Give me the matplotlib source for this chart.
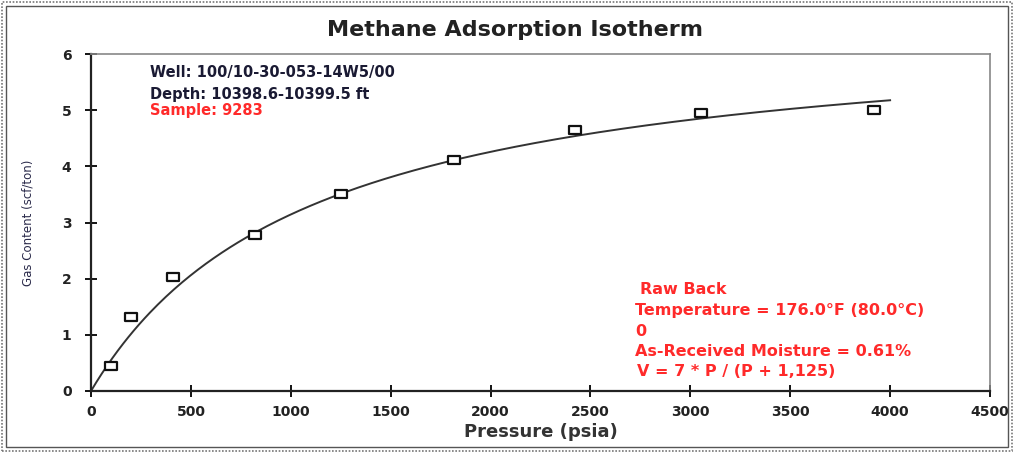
import numpy as np
import matplotlib
matplotlib.use("Agg")
import matplotlib.pyplot as plt
from matplotlib.patches import Rectangle
from matplotlib.path import Path

# Data
pressure = [100, 200, 410, 820, 1250, 1817, 2422, 3053, 3919]
gas_content = [0.44, 1.32, 2.03, 2.78, 3.51, 4.11, 4.64, 4.95, 5.00]
# Fitted Langmuir curve parameters (as drawn)
langmuir_volume = 6.6
langmuir_pressure = 1100
curve_max_pressure = 4000
x_ticks = [0, 500, 1000, 1500, 2000, 2500, 3000, 3500, 4000, 4500]
y_ticks = [0, 1, 2, 3, 4, 5, 6]

info_lines = ["Well: 100/10-30-053-14W5/00", "Depth: 10398.6-10399.5 ft"]
sample_line = "Sample: 9283"
cond_lines = ["Raw Back", "Temperature = 176.0°F (80.0°C)", "0",
              "As-Received Moisture = 0.61%", "V = 7 * P / (P + 1,125)"]

fig = plt.figure(figsize=(10.14, 4.53), dpi=100)
ax = fig.add_axes([91/1014, 62/453, 899/1014, 337/453])

pc = np.linspace(0, curve_max_pressure, 300)
vc = langmuir_volume * pc / (pc + langmuir_pressure)
ax.plot(pc, vc, color="#333333", lw=1.4, zorder=2)

rect_marker = Path([(-1.6, -1), (1.6, -1), (1.6, 1), (-1.6, 1), (-1.6, -1)],
                   [Path.MOVETO, Path.LINETO, Path.LINETO, Path.LINETO, Path.CLOSEPOLY])
ax.plot(pressure, gas_content, ls="none", marker=rect_marker, ms=9, mfc="white",
        mec="#111111", mew=1.6, zorder=3)

ax.set_xlim(0, 4500)
ax.set_ylim(0, 6)
ax.set_xticks(x_ticks)
ax.set_yticks(y_ticks)
ax.tick_params(direction="inout", length=8, width=1.3, labelsize=10, pad=6)
ax.tick_params(axis="y", pad=10)
for lab in ax.get_xticklabels() + ax.get_yticklabels():
    lab.set_fontweight("bold")
    lab.set_color("#222222")
for s in ["left", "bottom"]:
    ax.spines[s].set_linewidth(1.6)
    ax.spines[s].set_color("#222222")
for s in ["top", "right"]:
    ax.spines[s].set_linewidth(1.2)
    ax.spines[s].set_color("#888888")

ax.set_xlabel("Pressure (psia)", fontsize=13, fontweight="bold", color="#333333", labelpad=3)
ax.set_ylabel("Gas Content (scf/ton)", fontsize=8.5, color="#2a2a4a", labelpad=20)

fig.text(515/1014, 1 - 30/453, "Methane Adsorption Isotherm", ha="center", va="center",
         fontsize=16, fontweight="bold", color="#222222")

fig.text(150/1014, 1 - 73/453, info_lines[0], fontsize=10.5, fontweight="bold",
         color="#1a1a33", va="center")
fig.text(150/1014, 1 - 95/453, info_lines[1], fontsize=10.5, fontweight="bold",
         color="#1a1a33", va="center")
fig.text(150/1014, 1 - 110/453, sample_line, fontsize=10.5, fontweight="bold",
         color="#ff2a2a", va="center")

ys = [290, 311, 331, 352, 372]
xs = [640, 635, 635, 635, 637]
for t, yy, xx in zip(cond_lines, ys, xs):
    fig.text(xx/1014, 1 - yy/453, t, fontsize=11.5, fontweight="bold",
             color="#ff2a2a", va="center")

# double border around the figure
fig.add_artist(Rectangle((2/1014, 2/453), 1010/1014, 449/453, transform=fig.transFigure,
                         fill=False, ec="#777777", lw=1.2, ls=(0, (1, 1))))
fig.add_artist(Rectangle((6/1014, 6/453), 1002/1014, 441/453, transform=fig.transFigure,
                         fill=False, ec="#555555", lw=1.0))

fig.savefig("out.png", dpi=100)
